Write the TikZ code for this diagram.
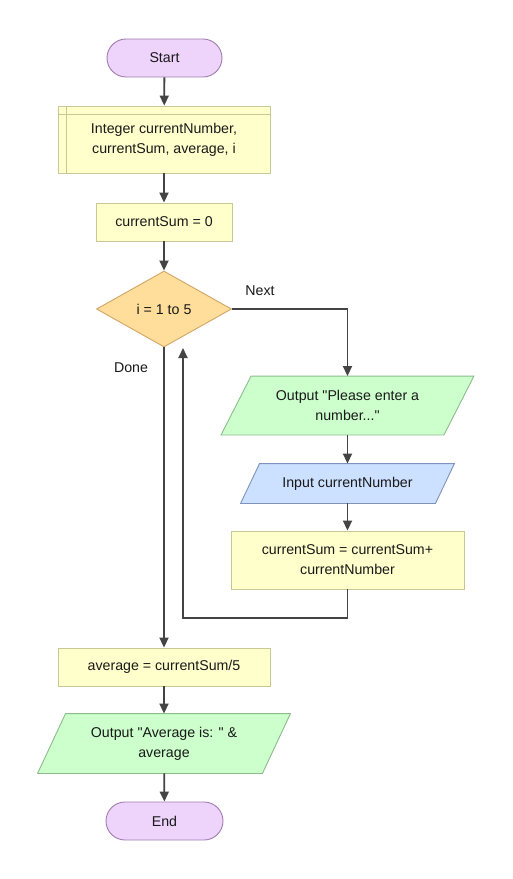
\documentclass[tikz,border=0pt]{standalone}
\usepackage{fontspec}
\setmainfont{Liberation Sans}[Ligatures=TeXOff]
\usetikzlibrary{shapes.geometric,arrows.meta,backgrounds}
\definecolor{termfill}{HTML}{EED3FB}
\definecolor{termline}{HTML}{A07DB0}
\definecolor{procfill}{HTML}{FFFFCC}
\definecolor{procline}{HTML}{C8C896}
\definecolor{decfill}{HTML}{FFDD9A}
\definecolor{decline}{HTML}{D2A565}
\definecolor{outfill}{HTML}{CCFFCC}
\definecolor{outline}{HTML}{8CBB8C}
\definecolor{infill}{HTML}{CCE0FF}
\definecolor{inline}{HTML}{7D93BD}
\definecolor{wire}{HTML}{444444}
\tikzset{
  base/.style={font=\fontsize{14.2}{20}\selectfont, align=center, inner sep=0pt, line width=0.9pt, text=black!90},
  term/.style={base, draw=termline, fill=termfill, rounded corners=19pt, minimum width=115pt, minimum height=38pt},
  proc/.style={base, draw=procline, fill=procfill, minimum height=38pt},
  decision/.style={base, shape=diamond, draw=decline, fill=decfill, minimum width=135pt, minimum height=76pt},
  iobox/.style={base, minimum height=58pt},
  wireline/.style={draw=wire, line width=1.8pt},
  arrow/.style={wireline, -{Triangle[length=10pt,width=9pt]}},
  lbl/.style={font=\fontsize{14.2}{20}\selectfont, text=black!90}
}
\newcommand{\para}[4]{% node name, skew, fill, line
  \begin{scope}[on background layer]
  \draw[line width=0.9pt, draw=#4, fill=#3]
    ([xshift=#2]#1.north west) -- ([xshift=#2]#1.north east) --
    ([xshift=-#2]#1.south east) -- ([xshift=-#2]#1.south west) -- cycle;
  \end{scope}}
\begin{document}
\begin{tikzpicture}[x=1pt,y=-1pt]
\begin{scope}[on background layer]
\fill[white] (0,0) rectangle (512,879);
\end{scope}
\useasboundingbox (0,0) rectangle (512,879);

\node[term] (start) at (164.5,58) {Start};
\node[proc, minimum width=212pt, minimum height=67pt] (decl) at (164,139.5) {Integer currentNumber,\\currentSum, average, i};
\draw[draw=procline, line width=0.9pt] ([xshift=9pt]decl.north west) -- ([xshift=9pt]decl.south west);
\draw[draw=procline, line width=0.9pt] ([yshift=-9pt]decl.north west) -- ([yshift=-9pt]decl.north east);
\node[proc, minimum width=136pt] (init) at (164,222) {currentSum = 0};
\node[decision] (loop) at (164,309) {i = 1 to 5};

\node[iobox, minimum width=222pt] (out1) at (347.5,405.5) {Output "Please enter a\\number..."};
\para{out1}{15pt}{outfill}{outline}
\node[iobox, minimum width=194pt, minimum height=39pt] (in1) at (347.5,483.5) {Input currentNumber};
\para{in1}{9.5pt}{infill}{inline}
\node[proc, minimum width=233pt, minimum height=58pt] (sum) at (347.5,560) {currentSum = currentSum+\\currentNumber};

\node[proc, minimum width=212pt] (avg) at (164,667) {average = currentSum/5};
\node[iobox, minimum width=224pt, minimum height=59pt] (out2) at (164,743.5) {Output "Average is: " \&\\average};
\para{out2}{14pt}{outfill}{outline}
\node[term, minimum width=117pt] (end) at (164.5,821) {End};

\node[lbl] (nextlbl) at (260,291) {Next};
\node[lbl] (donelbl) at (131,368) {Done};

\coordinate (bk) at (183,618);
\coordinate (loopin) at (183,348);

\draw[arrow] (start) -- (decl);
\draw[arrow] (decl) -- (init);
\draw[arrow] (init) -- (loop);
\draw[arrow] (loop.east) -| (out1.north);
\draw[arrow] (out1) -- (in1);
\draw[arrow] (in1) -- (sum);
\draw[arrow] (sum.south) |- (bk) -- (loopin);
\draw[arrow] (loop.south) -- (avg.north);
\draw[arrow] (avg) -- (out2);
\draw[arrow] (out2) -- (end);
\end{tikzpicture}
\end{document}
